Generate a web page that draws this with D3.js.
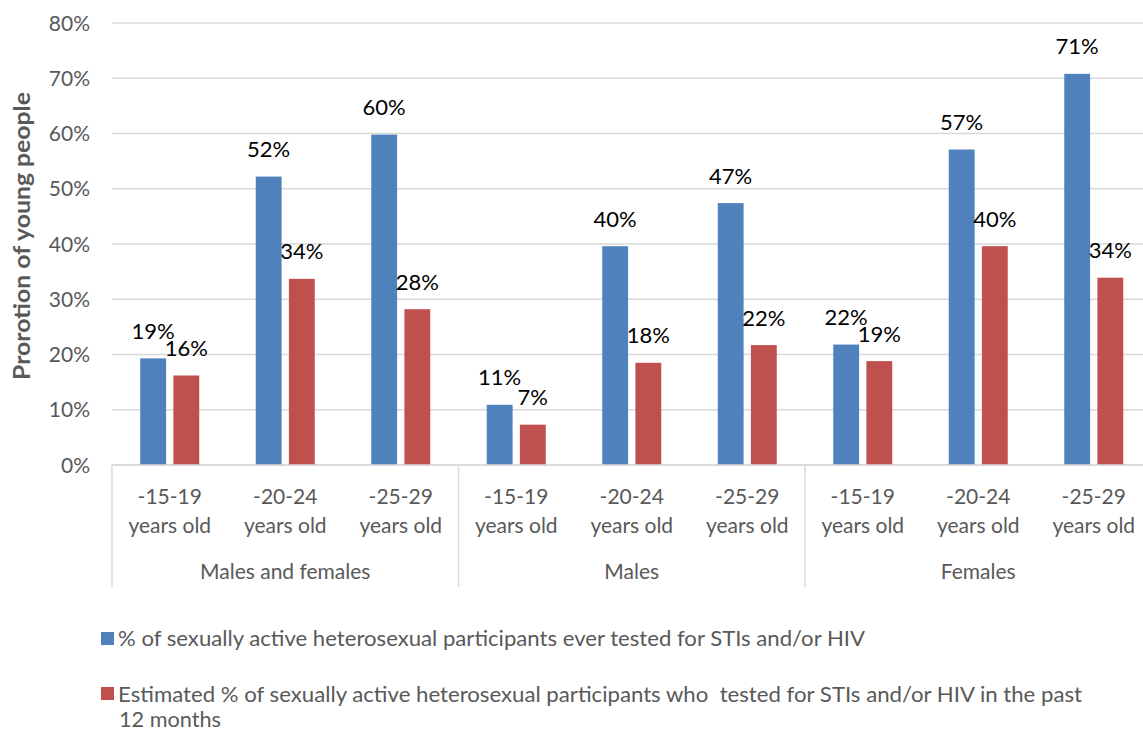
<!DOCTYPE html>
<html>
<head>
<meta charset="utf-8">
<script src="https://cdn.jsdelivr.net/npm/d3@7"></script>
<style>
  html, body { margin: 0; padding: 0; background: #fff; }
  svg { display: block; font-family: Lato, "Open Sans", sans-serif; }
  .legend text { white-space: pre; }
</style>
</head>
<body>
<svg id="chart" width="1143" height="733"></svg>
<script>
// ---- data ----
const groups = ["Males and females", "Males", "Females"];
const ageBands = ["-15-19", "-20-24", "-25-29"];
const ageSuffix = "years old";
const seriesNames = [
  "% of sexually active heterosexual participants ever tested for STIs and/or HIV",
  "Estimated % of sexually active heterosexual participants who  tested for STIs and/or HIV in the past 12 months"
];
const everTested = [19.3, 52.2, 59.8, 10.9, 39.6, 47.4, 21.8, 57.1, 70.8];
const past12Months = [16.2, 33.7, 28.2, 7.3, 18.5, 21.7, 18.8, 39.6, 33.9];
const valueLabels1 = ["19%", "52%", "60%", "11%", "40%", "47%", "22%", "57%", "71%"];
const valueLabels2 = ["16%", "34%", "28%", "7%", "18%", "22%", "19%", "40%", "34%"];
const yTicks = [0, 10, 20, 30, 40, 50, 60, 70, 80];
const colors = ["#4f81bd", "#c0504d"];

// ---- layout ----
const svg = d3.select("#chart");
const plotLeft = 112, plotRight = 1151.5, plotTop = 23, plotBottom = 465;
const cats = [];
groups.forEach((g, gi) => ageBands.forEach((a, ai) => cats.push({ id: gi * 3 + ai, group: g, age: a })));

const x0 = d3.scaleBand().domain(cats.map(c => c.id)).range([plotLeft, plotRight]).padding(0);
const y = d3.scaleLinear().domain([0, 80]).range([plotBottom, plotTop]);
const step = x0.bandwidth();
const x1 = d3.scaleBand().domain([0, 1]).range([step / 2 - 29.5, step / 2 + 29.5]).paddingInner(0.22);

const gridColor = "#d9d9d9";
const textGray = "#595959";

// gridlines
svg.append("g").selectAll("line").data(yTicks).join("line")
  .attr("x1", plotLeft).attr("x2", 1143)
  .attr("y1", d => y(d)).attr("y2", d => y(d))
  .attr("stroke", gridColor).attr("stroke-width", 1.5);

// y tick labels
svg.append("g").selectAll("text").data(yTicks).join("text")
  .attr("x", 90).attr("y", d => y(d) + 7.5)
  .attr("text-anchor", "end")
  .attr("font-size", 21).attr("fill", textGray)
  .text(d => d + "%");

// y title
svg.append("text")
  .attr("transform", "translate(30,236) rotate(-90)")
  .attr("text-anchor", "middle")
  .attr("font-size", 22).attr("font-weight", "bold").attr("fill", textGray)
  .attr("textLength", 288).attr("lengthAdjust", "spacingAndGlyphs")
  .text("Prorotion of young people");

// bars
const seriesData = [everTested, past12Months];
const labelData = [valueLabels1, valueLabels2];
seriesData.forEach((vals, si) => {
  svg.append("g").selectAll("rect").data(cats).join("rect")
    .attr("x", c => x0(c.id) + x1(si))
    .attr("width", x1.bandwidth())
    .attr("y", c => y(vals[c.id]))
    .attr("height", c => plotBottom - y(vals[c.id]))
    .attr("fill", colors[si]);
});
seriesData.forEach((vals, si) => {
  svg.append("g").selectAll("text").data(cats).join("text")
    .attr("x", c => x0(c.id) + x1(si) + x1.bandwidth() / 2)
    .attr("y", c => y(vals[c.id]) - 19.5)
    .attr("text-anchor", "middle")
    .attr("font-size", 22).attr("fill", "#000")
    .text(c => labelData[si][c.id]);
});

// x axis line
svg.append("line").attr("x1", plotLeft).attr("x2", 1143).attr("y1", plotBottom).attr("y2", plotBottom)
  .attr("stroke", gridColor).attr("stroke-width", 1.5);

// group separators
const sepIdx = [0, 3, 6, 9];
svg.append("g").selectAll("line").data(sepIdx).join("line")
  .attr("x1", d => plotLeft + d * step).attr("x2", d => plotLeft + d * step)
  .attr("y1", plotBottom).attr("y2", 587)
  .attr("stroke", gridColor).attr("stroke-width", 1.5);

// category labels
const catG = svg.append("g").attr("font-size", 21).attr("fill", textGray).attr("text-anchor", "middle");
catG.selectAll("text.age").data(cats).join("text").attr("class", "age")
  .attr("x", c => x0(c.id) + step / 2).attr("y", 504).text(c => c.age);
catG.selectAll("text.yrs").data(cats).join("text").attr("class", "yrs")
  .attr("x", c => x0(c.id) + step / 2).attr("y", 532.5).text(ageSuffix);
catG.selectAll("text.grp").data(groups).join("text").attr("class", "grp")
  .attr("x", (g, i) => plotLeft + (i * 3 + 1.5) * step).attr("y", 579).text(g => g);

// legend
const lg = svg.append("g").attr("class", "legend").attr("font-size", 21).attr("fill", textGray);
lg.append("rect").attr("x", 101).attr("y", 632).attr("width", 13).attr("height", 13).attr("fill", colors[0]);
lg.append("text").attr("x", 118).attr("y", 646)
  .attr("textLength", 747).attr("lengthAdjust", "spacingAndGlyphs").text(seriesNames[0]);
lg.append("rect").attr("x", 101).attr("y", 687).attr("width", 13).attr("height", 13).attr("fill", colors[1]);
const s2 = seriesNames[1];
const cut = s2.lastIndexOf(" 12 months");
lg.append("text").attr("x", 118).attr("y", 701.5)
  .attr("textLength", 964).attr("lengthAdjust", "spacingAndGlyphs").text(s2.slice(0, cut));
lg.append("text").attr("x", 119).attr("y", 727)
  .attr("textLength", 102).attr("lengthAdjust", "spacingAndGlyphs").text(s2.slice(cut + 1));
</script>
</body>
</html>
